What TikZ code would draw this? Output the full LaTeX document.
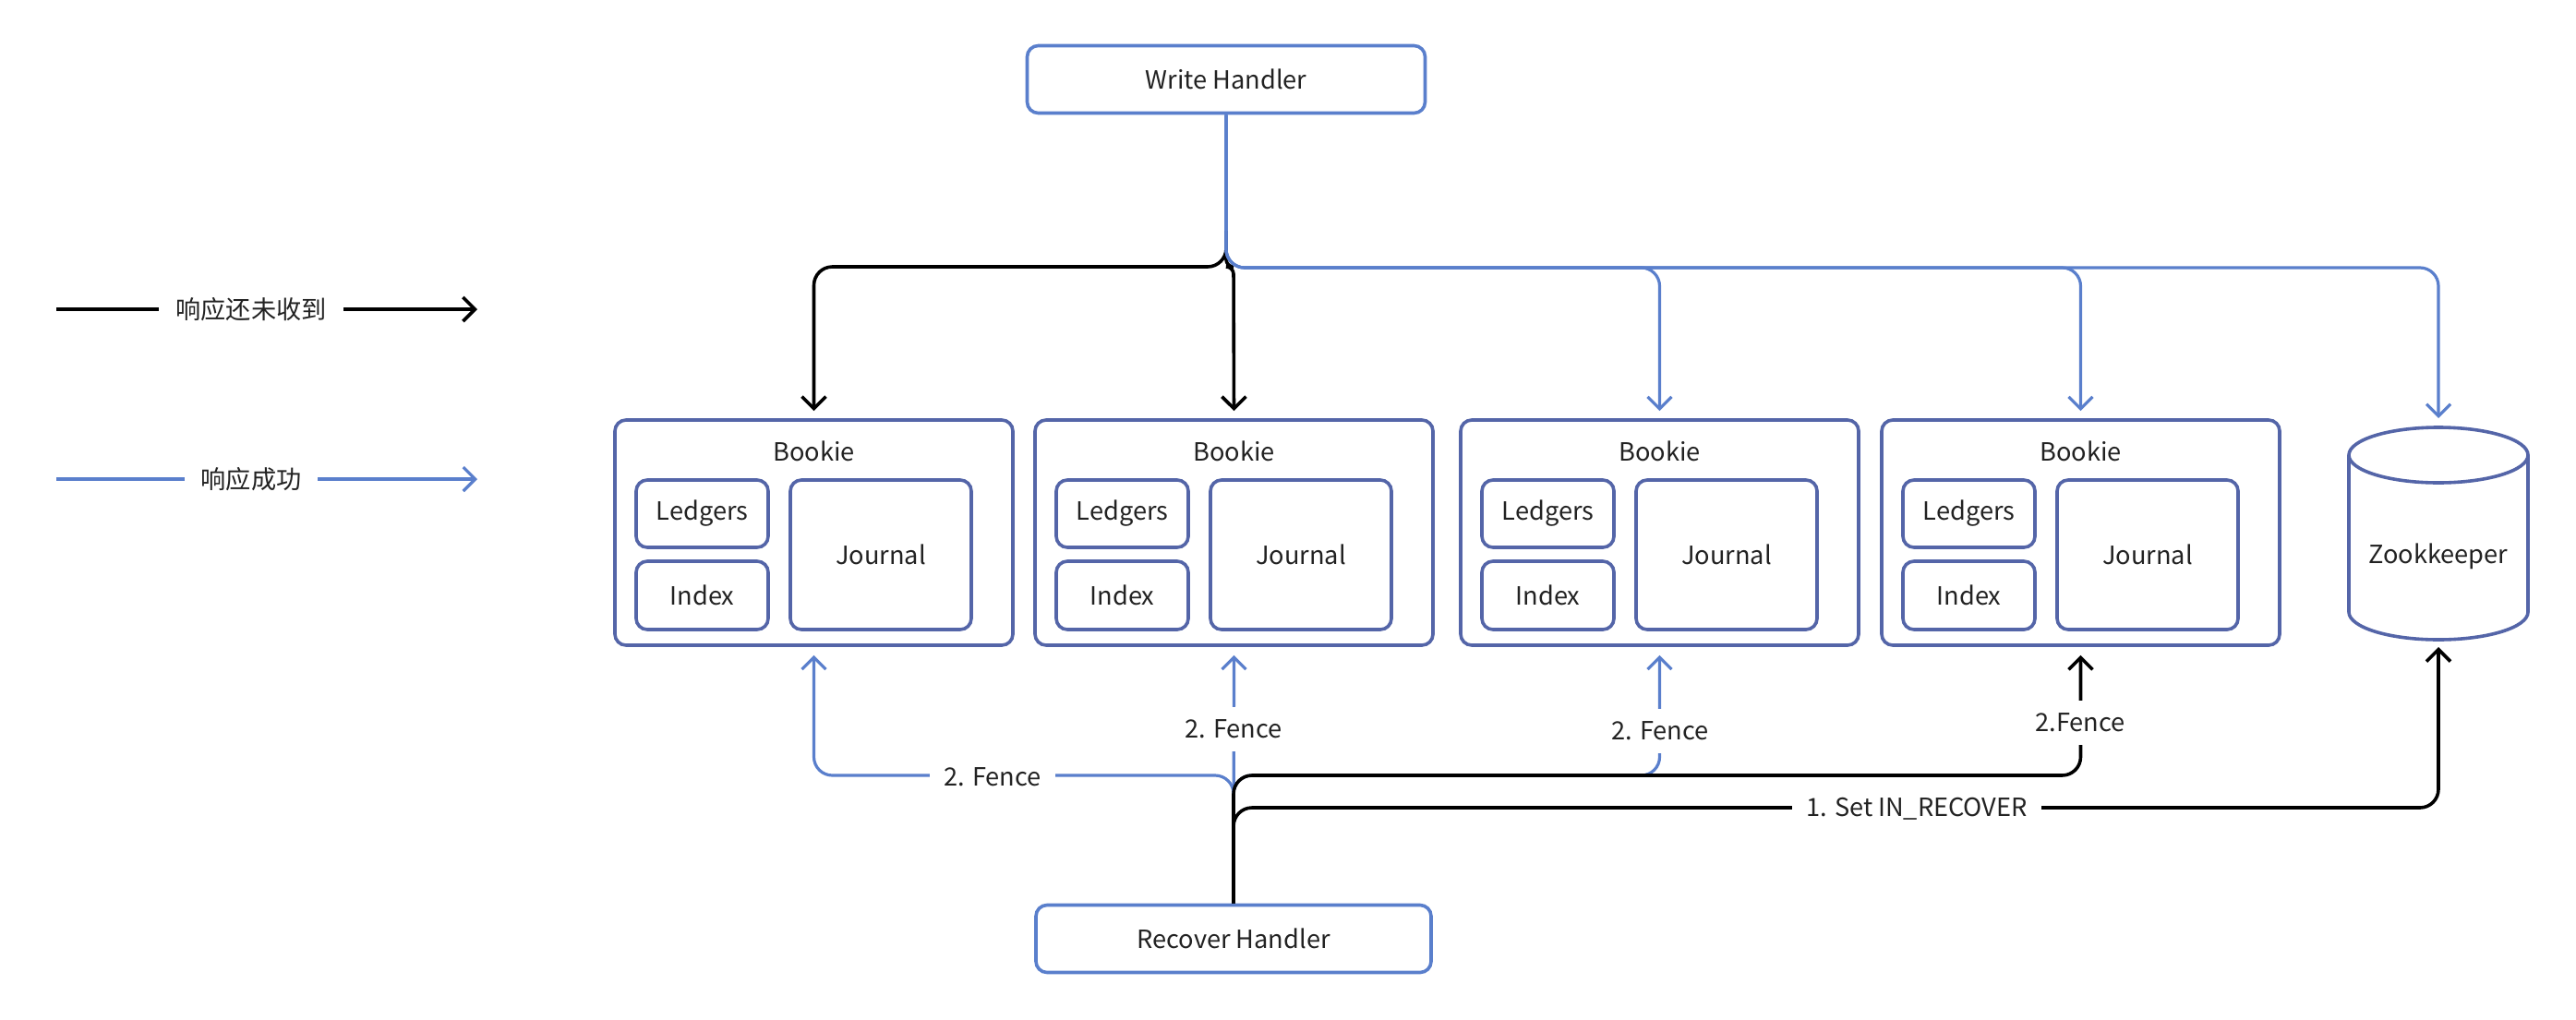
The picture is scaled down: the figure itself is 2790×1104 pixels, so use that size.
\documentclass[tikz,border=0pt]{standalone}
\usepackage{fontspec}
\setmainfont{Noto Sans CJK SC}
\usetikzlibrary{arrows.meta}
\definecolor{bkblue}{RGB}{84,101,168}
\definecolor{lnblue}{RGB}{90,127,204}
\definecolor{txtgray}{RGB}{34,34,34}
\begin{document}
\begin{tikzpicture}[x=0.5pt,y=-0.5pt,
  font=\fontsize{13.6}{16}\selectfont, text=txtgray,
  box/.style={draw=bkblue, line width=1.8pt, rounded corners=6pt, inner sep=0pt, fill=white},
  hbox/.style={draw=lnblue, line width=1.8pt, rounded corners=6pt, inner sep=0pt, fill=white, minimum height=36.5pt},
  arr/.style={-{Straight Barb[length=6.5pt,width=13pt]}},
  blu/.style={draw=lnblue, line width=1.6pt, rounded corners=10pt},
  blk/.style={draw=black, line width=1.8pt, rounded corners=10pt},
  lbl/.style={fill=white, inner xsep=7.5pt, inner ysep=7pt},
  leg/.style={fill=white, inner xsep=9pt, inner ysep=3pt},
]
\fill[white] (0,0) rectangle (2790,1104);
\useasboundingbox (0,0) rectangle (2790,1104);

% legend
\draw[blk,arr] (61,335) -- (517,335);
\node[leg] (lg1) at (272,335) {响应还未收到};
\draw[blu,arr] (61,519) -- (517,519);
\node[leg] (lg2) at (272,519) {响应成功};

% handlers
\node[hbox, minimum width=215.5pt] (wh) at (1328,86) {Write Handler};
\node[hbox, minimum width=214pt] (rh) at (1336,1017) {Recover Handler};

% bookies
\foreach \n/\l in {1/666, 2/1121, 3/1582, 4/2038} {
  \node[box, minimum width=215.5pt, minimum height=122pt] (b\n) at (\l+215.5,577) {};
  \node (bt\n) at (\l+215.5,489) {Bookie};
  \node[box, minimum width=71.5pt, minimum height=36.5pt] (lg\n) at (\l+94.5,556.5) {Ledgers};
  \node[box, minimum width=71.5pt, minimum height=37pt] (ix\n) at (\l+94.5,645) {Index};
  \node[box, minimum width=98pt, minimum height=81pt] (jn\n) at (\l+288,601) {Journal};
}

% zookeeper cylinder
\draw[draw=bkblue, line width=1.8pt, fill=white] (2544,493) -- (2544,663)
  arc[start angle=180, end angle=360, x radius=48.5pt, y radius=15pt] -- (2738,493);
\draw[draw=bkblue, line width=1.8pt] (2641,493) ellipse[x radius=48.5pt, y radius=15pt];
\node (zk) at (2641,603) {Zookkeeper};
\coordinate (zktop) at (2641,463);
\coordinate (zkbot) at (2641,693);

% write fan-out: black (not yet answered)
\draw[blk,arr,shorten >=4pt] (1328,250) -- (1328,289) -- (b1.north |- 0,289) -- (b1.north);
\draw[blk,arr,shorten >=4pt,rounded corners=4pt] (1328,262) -- (1328,289) -- (1336,289) -- (b2.north);
% blue (answered)
\draw[blu,arr,shorten >=4pt] (wh.south) -- (1328,290) -- (b3.north |- 0,290) -- (b3.north);
\draw[blu,arr,shorten >=4pt] (wh.south) -- (1328,290) -- (b4.north |- 0,290) -- (b4.north);
\draw[blu,arr,shorten >=5pt] (wh.south) -- (1328,290) -- (zktop |- 0,290) -- (zktop);

% recover: blue fences
\draw[blu,arr,shorten >=4.5pt] (rh.north) -- (1336,840) -- (b1.south |- 0,840) -- (b1.south);
\draw[blu,arr,shorten >=4.5pt] (rh.north) -- (b2.south);
\draw[blu,arr,shorten >=4.5pt] (rh.north) -- (1336,840) -- (b3.south |- 0,840) -- (b3.south);
% black
\draw[blk,arr,shorten >=4.5pt] (rh.north) -- (1336,840) -- (b4.south |- 0,840) -- (b4.south);
\draw[blk,arr,shorten >=4pt] (rh.north) -- (1336,875) -- (zkbot |- 0,875) -- (zkbot);

% labels
\node[lbl] (f1) at (1075,842) {2. Fence};
\node[lbl] (f2) at (1336,790) {2. Fence};
\node[lbl] (f3) at (1798,792) {2. Fence};
\node[lbl] (f4) at (2253,783) {2.Fence};
\node[lbl] (s1) at (2076,876) {1. Set IN\_RECOVER};
\end{tikzpicture}
\end{document}
